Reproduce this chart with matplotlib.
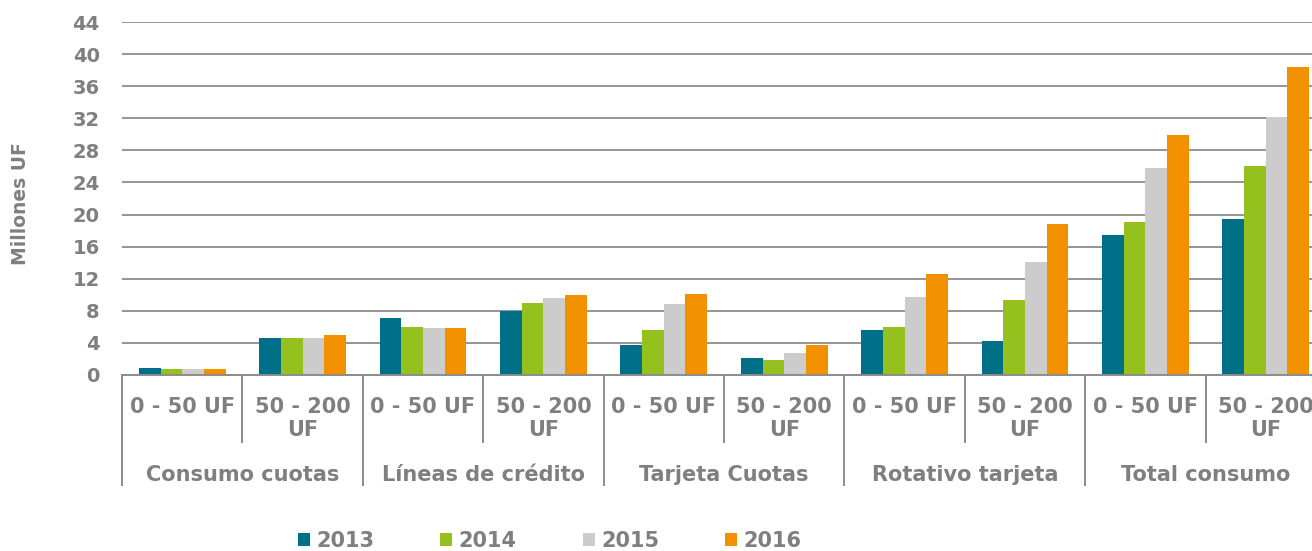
import numpy as np
import matplotlib.pyplot as plt
from matplotlib.transforms import offset_copy

# Data (millones UF)
groups = ['Consumo cuotas', 'Líneas de crédito', 'Tarjeta Cuotas',
          'Rotativo tarjeta', 'Total consumo']
tramos = ['0 - 50 UF', '50 - 200\nUF']
years = ['2013', '2014', '2015', '2016']
v2013 = [0.85, 4.6, 7.05, 8.0, 3.8, 2.1, 5.55, 4.25, 17.5, 19.45]
v2014 = [0.8, 4.6, 6.0, 9.0, 5.65, 1.85, 6.0, 9.4, 19.1, 26.0]
v2015 = [0.7, 4.6, 5.9, 9.55, 8.85, 2.8, 9.75, 14.05, 25.8, 32.15]
v2016 = [0.7, 4.95, 5.8, 10.0, 10.15, 3.7, 12.6, 18.85, 29.9, 38.45]
colors = ['#006F88', '#95C11F', '#CCCCCC', '#F29100']

gray = '#7f7f7f'
line_gray = '#8c8c8c'

fig = plt.figure(figsize=(13.12, 5.51), dpi=100)
W, H = 1312, 551
# axes spans px 122..1326 horizontally (clipped at right), 22..375 vertically
ax = fig.add_axes([122 / W, (H - 375) / H, 1204 / W, 353 / H])

n = len(v2013)
x = np.arange(n) + 0.5
bw = 0.18
series = [v2013, v2014, v2015, v2016]
bars = []
for i, (vals, c) in enumerate(zip(series, colors)):
    b = ax.bar(x + (i - 1.5) * bw, vals, width=bw, color=c, zorder=3,
               label=years[i])
    bars.append(b)

ax.set_xlim(0, n)
ax.set_ylim(0, 44)
ax.set_yticks(np.arange(0, 45, 4))
ax.yaxis.grid(True, color=line_gray, linewidth=1.3, zorder=0)
ax.set_axisbelow(True)
for s in ['left', 'top', 'right']:
    ax.spines[s].set_visible(False)
ax.spines['bottom'].set_color(line_gray)
ax.spines['bottom'].set_linewidth(1.4)
ax.spines['bottom'].set_zorder(4)

ax.tick_params(axis='y', length=0, pad=16, labelsize=14, labelcolor=gray)
for t in ax.get_yticklabels():
    t.set_fontweight('bold')

# separators as ticks: long ones between groups, short ones between tramos
ax.set_xticks(np.arange(0, n + 1, 2))
ax.set_xticks(np.arange(1, n, 2), minor=True)
ax.tick_params(axis='x', which='major', length=80, width=1.4, color=line_gray,
               direction='out', labelbottom=False)
ax.tick_params(axis='x', which='minor', length=49, width=1.4, color=line_gray,
               direction='out', labelbottom=False)

xt = ax.get_xaxis_transform()
t1 = offset_copy(xt, fig=fig, y=-21.7, units='dots')
t2 = offset_copy(xt, fig=fig, y=-89.7, units='dots')
for i in range(n):
    ax.text(x[i], 0, tramos[i % 2], transform=t1, ha='center', va='top',
            fontsize=15, fontweight='bold', color=gray, clip_on=False)
for g, name in enumerate(groups):
    ax.text(2 * g + 1, 0, name, transform=t2, ha='center', va='top',
            fontsize=15, fontweight='bold', color=gray, clip_on=False)

fig.text(21 / W, 1 - 204 / H, 'Millones UF', rotation=90, ha='center',
         va='center', fontsize=13.5, fontweight='bold', color=gray)

fig.legend(handles=bars, labels=years, loc='center left',
           bbox_to_anchor=(298 / W, 1 - 541 / H), ncol=4, frameon=False,
           borderpad=0, borderaxespad=0, handlelength=0.58, handleheight=0.58,
           handletextpad=0.3, columnspacing=3.17,
           prop={'size': 15, 'weight': 'bold'}, labelcolor=gray)

fig.savefig('out.png', dpi=100)
